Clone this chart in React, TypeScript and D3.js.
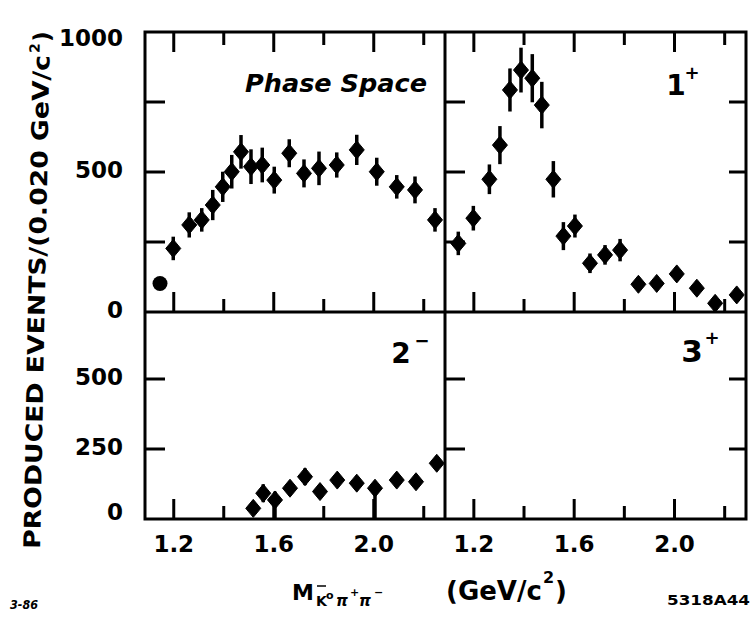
import React from "react";
import * as d3 from "d3";

// ---- data ----
const massPhase = [1.145, 1.198, 1.262, 1.312, 1.356, 1.396, 1.432, 1.469, 1.509, 1.554, 1.602, 1.662, 1.721, 1.781, 1.852, 1.932, 2.012, 2.092, 2.165, 2.245];
const eventsPhase = [102, 227, 311, 329, 382, 447, 501, 572, 519, 525, 471, 567, 495, 513, 525, 579, 501, 447, 436, 329];
const errPhase = [15, 42, 45, 42, 54, 54, 60, 60, 62, 62, 48, 50, 50, 60, 45, 54, 50, 42, 48, 42];

const mass1p = [1.138, 1.198, 1.262, 1.304, 1.344, 1.388, 1.433, 1.471, 1.517, 1.557, 1.603, 1.663, 1.723, 1.783, 1.856, 1.929, 2.009, 2.089, 2.162, 2.248];
const events1p = [245, 335, 474, 596, 793, 864, 835, 739, 474, 271, 307, 174, 204, 221, 99, 102, 136, 85, 31, 61];
const err1p = [42, 44, 53, 68, 77, 80, 86, 83, 65, 50, 41, 35, 35, 40, 20, 20, 25, 25, 25, 25];

const mass2m = [1.518, 1.558, 1.605, 1.665, 1.725, 1.785, 1.854, 1.932, 2.005, 2.092, 2.169, 2.252];
const events2m = [38, 92, 68, 110, 151, 98, 139, 128, 110, 139, 133, 199];
const errLow2m = [20, 32, 68, 25, 30, 25, 25, 25, 110, 25, 25, 25];
const errHigh2m = [20, 32, 30, 25, 30, 25, 25, 25, 25, 25, 25, 25];

const mass3p: number[] = [];
const events3p: number[] = [];
const err3p: number[] = [];

const xTicks = [1.2, 1.4, 1.6, 1.8, 2.0, 2.2];
const xLabelTicks = [1.2, 1.6, 2.0];
const yTicksTop = [250, 500, 750];
const yLabelsTop = [0, 500, 1000];
const yTicksBottom = [250, 500];
const yLabelsBottom = [0, 250, 500];

const FONT = "'DejaVu Sans', sans-serif";

export default function App() {
  const W = 755, H = 619;
  const L = 145, M = 445, R = 746, T = 32, Mid = 312, B = 519;
  const xDomain = [1.085, 2.285];
  const xLeft = d3.scaleLinear().domain(xDomain).range([L, M]);
  const xRight = d3.scaleLinear().domain(xDomain).range([M, R]);
  const yTop = d3.scaleLinear().domain([0, 1000]).range([Mid, T]);
  const yBot = d3.scaleLinear().domain([0, 1000]).range([B, B - 280]);

  const panels = [
    { x: xLeft, y: yTop, mass: massPhase, ev: eventsPhase, lo: errPhase, hi: errPhase, top: T, bottom: Mid, left: L, right: M, rightTicks: false, topTicks: true, yt: yTicksTop },
    { x: xRight, y: yTop, mass: mass1p, ev: events1p, lo: err1p, hi: err1p, top: T, bottom: Mid, left: M, right: R, rightTicks: true, topTicks: true, yt: yTicksTop },
    { x: xLeft, y: yBot, mass: mass2m, ev: events2m, lo: errLow2m, hi: errHigh2m, top: Mid, bottom: B, left: L, right: M, rightTicks: false, topTicks: false, yt: yTicksBottom },
    { x: xRight, y: yBot, mass: mass3p, ev: events3p, lo: err3p, hi: err3p, top: Mid, bottom: B, left: M, right: R, rightTicks: true, topTicks: false, yt: yTicksBottom },
  ];

  const diamond = (cx: number, cy: number, hw = 7.5, hh = 9) =>
    `M${cx},${cy - hh}L${cx + hw},${cy}L${cx},${cy + hh}L${cx - hw},${cy}Z`;

  const tickLen = (t: number) => (xLabelTicks.includes(t) ? 20 : 13);

  return (
    <svg width={W} height={H} style={{ position: "absolute", left: 0, top: 0, background: "#fff" }} fontFamily={FONT}>
      <rect x={0} y={0} width={W} height={H} fill="#fff" />
      {panels.map((p, pi) => (
        <g key={pi}>
          {xTicks.map((t) => (
            <line key={"xb" + t} x1={p.x(t)} x2={p.x(t)} y1={p.bottom} y2={p.bottom - tickLen(t)} stroke="#000" strokeWidth={3} />
          ))}
          {p.topTicks && xTicks.map((t) => (
            <line key={"xt" + t} x1={p.x(t)} x2={p.x(t)} y1={p.top} y2={p.top + tickLen(t)} stroke="#000" strokeWidth={3} />
          ))}
          {p.yt.map((t) => (
            <line key={"yl" + t} x1={p.left} x2={p.left + 20} y1={p.y(t)} y2={p.y(t)} stroke="#000" strokeWidth={3} />
          ))}
          {p.rightTicks && p.yt.map((t) => (
            <line key={"yr" + t} x1={p.right} x2={p.right - 17} y1={p.y(t)} y2={p.y(t)} stroke="#000" strokeWidth={3} />
          ))}
          {p.mass.map((m, i) => (
            <line key={"e" + i} x1={p.x(m)} x2={p.x(m)} y1={p.y(Math.max(0, p.ev[i] - p.lo[i]))} y2={p.y(p.ev[i] + p.hi[i])} stroke="#000" strokeWidth={3.5} />
          ))}
          {p.mass.map((m, i) =>
            pi === 0 && i === 0 ? (
              <circle key={"m" + i} cx={p.x(m)} cy={p.y(p.ev[i])} r={7.5} fill="#000" />
            ) : (
              <path key={"m" + i} d={diamond(p.x(m), p.y(p.ev[i]))} fill="#000" stroke="#000" strokeWidth={1} strokeLinejoin="round" />
            )
          )}
        </g>
      ))}

      {/* frame */}
      <rect x={L} y={T} width={R - L} height={B - T} fill="none" stroke="#000" strokeWidth={3} />
      <line x1={M} x2={M} y1={T} y2={B} stroke="#000" strokeWidth={3} />
      <line x1={L} x2={R} y1={Mid} y2={Mid} stroke="#000" strokeWidth={3} />

      {/* y tick labels */}
      {yLabelsTop.map((t) => (
        <text key={"lt" + t} x={123} y={Math.max(yTop(t) - 2, T + 6)} textAnchor="end" dominantBaseline="central" fontSize={23} fontWeight="bold">{t}</text>
      ))}
      {yLabelsBottom.map((t) => (
        <text key={"lb" + t} x={123} y={Math.min(yBot(t) - 2, B - 7)} textAnchor="end" dominantBaseline="central" fontSize={23} fontWeight="bold">{t}</text>
      ))}

      {/* x tick labels */}
      {[xLeft, xRight].map((sx, k) =>
        xLabelTicks.map((t) => (
          <text key={"xl" + k + t} x={sx(t)} y={552} textAnchor="middle" fontSize={23} fontWeight="bold">{t.toFixed(1)}</text>
        ))
      )}

      {/* panel labels */}
      <text x={245} y={92} fontSize={24} fontWeight="bold" fontStyle="italic" textLength={182} lengthAdjust="spacingAndGlyphs">Phase Space</text>
      <text x={676} y={95} textAnchor="middle" fontSize={28} fontWeight="bold">1</text>
      <text x={692} y={79} textAnchor="middle" fontSize={18} fontWeight="bold">+</text>
      <text x={401} y={363} textAnchor="middle" fontSize={28} fontWeight="bold">2</text>
      <text x={422} y={347} textAnchor="middle" fontSize={18} fontWeight="bold">−</text>
      <text x={692} y={362} textAnchor="middle" fontSize={31} fontWeight="bold">3</text>
      <text x={712} y={344} textAnchor="middle" fontSize={18} fontWeight="bold">+</text>

      {/* y axis title */}
      <g transform="translate(40,549) rotate(-88.9)">
        <text x={0} y={0} fontSize={23} fontWeight="bold" textLength={494} lengthAdjust="spacingAndGlyphs">PRODUCED EVENTS/(0.020 GeV/c</text>
        <text x={496} y={-10} fontSize={14} fontWeight="bold">2</text>
        <text x={507} y={0} fontSize={23} fontWeight="bold">)</text>
      </g>

      {/* x axis title */}
      <text x={292} y={600} fontSize={22} fontWeight="bold">M</text>
      <text x={316} y={606} fontSize={14} fontWeight="bold">K</text>
      <line x1={317} x2={326} y1={586} y2={586} stroke="#000" strokeWidth={1.5} />
      <text x={326} y={599} fontSize={11} fontWeight="bold">o</text>
      <text x={336} y={606} fontSize={15} fontWeight="bold" fontStyle="italic">π</text>
      <text x={350} y={596} fontSize={11} fontWeight="bold">+</text>
      <text x={359} y={606} fontSize={15} fontWeight="bold" fontStyle="italic">π</text>
      <text x={374} y={596} fontSize={11} fontWeight="bold">−</text>

      <text x={446} y={600} fontSize={26} fontWeight="bold">(GeV/c</text>
      <text x={543} y={583} fontSize={16} fontWeight="bold">2</text>
      <text x={555} y={600} fontSize={26} fontWeight="bold">)</text>

      {/* footer codes */}
      <text x={10} y={609} fontSize={12} fontWeight="bold" fontStyle="italic" textLength={28} lengthAdjust="spacingAndGlyphs">3-86</text>
      <text x={667} y={605} fontSize={14} fontWeight="bold" textLength={83} lengthAdjust="spacingAndGlyphs">5318A44</text>
    </svg>
  );
}
